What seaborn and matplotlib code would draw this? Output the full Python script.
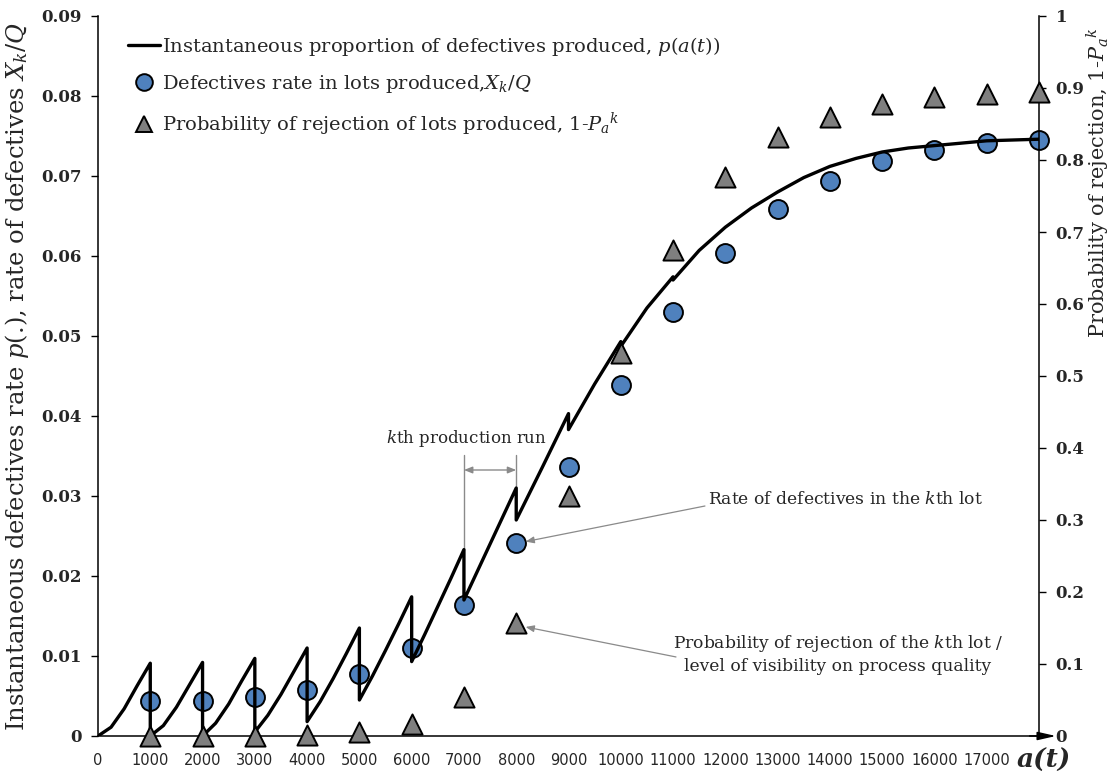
import matplotlib
matplotlib.use("Agg")
import matplotlib.pyplot as plt
from matplotlib.lines import Line2D
import pandas as pd
import seaborn as sns

# ---- data -----------------------------------------------------------------
# lot completion times a(t)
lot_end = [1000, 2000, 3000, 4000, 5000, 6000, 7000, 8000, 9000,
           10000, 11000, 12000, 13000, 14000, 15000, 16000, 17000, 18000]

# defectives rate in each produced lot, X_k / Q
defect_rate = [0.0044, 0.0044, 0.0049, 0.0058, 0.0078, 0.0110, 0.0164, 0.0241,
               0.0336, 0.0439, 0.0530, 0.0604, 0.0659, 0.0694, 0.0719, 0.0732,
               0.0741, 0.0745]

# probability of rejection of each lot, 1 - Pa^k
reject_prob = [0.0, 0.0, 0.0, 0.001, 0.006, 0.017, 0.054, 0.157, 0.333,
               0.532, 0.675, 0.776, 0.832, 0.860, 0.878, 0.888, 0.892, 0.895]

# instantaneous proportion of defectives p(a(t)); repeated times mark the
# drop at the end of each production run
line_t = [0, 250, 500, 750, 1000,
          1000, 1250, 1500, 1750, 2000,
          2000, 2250, 2500, 2750, 3000,
          3000, 3250, 3500, 3750, 4000,
          4000, 4250, 4500, 4750, 5000,
          5000, 5250, 5500, 5750, 6000,
          6000, 6250, 6500, 6750, 7000,
          7000, 7500, 8000,
          8000, 8500, 9000,
          9000, 9500, 10000,
          10000, 10500, 11000,
          11000, 11500, 12000, 12500, 13000, 13500, 14000, 14500, 15000,
          15500, 16000, 16500, 17000, 17500, 18000]
line_p = [0.0, 0.0011, 0.0034, 0.0063, 0.0091,
          0.0, 0.0013, 0.0036, 0.0064, 0.0092,
          0.0, 0.0016, 0.0040, 0.0069, 0.0097,
          0.0005, 0.0026, 0.0052, 0.0081, 0.0110,
          0.0018, 0.0043, 0.0072, 0.0103, 0.0135,
          0.0045, 0.0075, 0.0107, 0.0140, 0.0174,
          0.0093, 0.0127, 0.0162, 0.0197, 0.0233,
          0.0170, 0.0240, 0.0310,
          0.0270, 0.0336, 0.0403,
          0.0383, 0.0440, 0.0493,
          0.0487, 0.0535, 0.0574,
          0.0570, 0.0607, 0.0636, 0.0660, 0.0680, 0.0698, 0.0712, 0.0722, 0.0730,
          0.0735, 0.0738, 0.0741, 0.0744, 0.0745, 0.0746]

x_ticks = [0, 1000, 2000, 3000, 4000, 5000, 6000, 7000, 8000, 9000,
           10000, 11000, 12000, 13000, 14000, 15000, 16000, 17000]
x_tick_labels = [str(v) for v in x_ticks]
left_ticks = [0, 0.01, 0.02, 0.03, 0.04, 0.05, 0.06, 0.07, 0.08, 0.09]
left_tick_labels = ["0", "0.01", "0.02", "0.03", "0.04", "0.05", "0.06",
                    "0.07", "0.08", "0.09"]
right_ticks = [0, 0.1, 0.2, 0.3, 0.4, 0.5, 0.6, 0.7, 0.8, 0.9, 1.0]
right_tick_labels = ["0", "0.1", "0.2", "0.3", "0.4", "0.5", "0.6", "0.7",
                     "0.8", "0.9", "1"]

# ---- style ----------------------------------------------------------------
sns.set_style("white")
plt.rcParams["font.family"] = ["DejaVu Serif"]
plt.rcParams["mathtext.fontset"] = "dejavuserif"

BLUE = "#4F81BD"
GREY = "#7F7F7F"
ANN = "#8A8A8A"

fig = plt.figure(figsize=(11.13, 7.73), dpi=100)
W, H = 1113, 773
ax = fig.add_axes([98 / W, 1 - 736 / H, (1039 - 98) / W, (736 - 16) / H])
ax2 = ax.twinx()

line_df = pd.DataFrame({"t": line_t, "p": line_p})
lot_df = pd.DataFrame({"t": lot_end, "rate": defect_rate, "reject": reject_prob})

sns.scatterplot(data=lot_df, x="t", y="rate", ax=ax, s=185, color=BLUE,
                edgecolor="black", linewidth=1.4, zorder=2, clip_on=False,
                legend=False)
sns.lineplot(data=line_df, x="t", y="p", ax=ax, sort=False, estimator=None,
             color="black", lw=2.4, zorder=3, legend=False)
sns.scatterplot(data=lot_df, x="t", y="reject", ax=ax2, s=210, marker="^",
                color=GREY, edgecolor="black", linewidth=1.4, zorder=4,
                clip_on=False, legend=False)

ax.set_xlim(0, 18000)
ax.set_ylim(0, 0.09)
ax2.set_ylim(0, 1)

ax.set_xticks(x_ticks)
ax.set_xticklabels(x_tick_labels, family="DejaVu Sans", fontsize=10.5)
ax.set_yticks(left_ticks)
ax.set_yticklabels(left_tick_labels, fontweight="bold", fontsize=12)
ax2.set_yticks(right_ticks)
ax2.set_yticklabels(right_tick_labels, fontweight="bold", fontsize=12)

for a in (ax, ax2):
    a.tick_params(direction="out", length=5, width=1, pad=7, color="black")
    a.set_xlabel("")
    a.set_ylabel("")

for side in ("top", "right"):
    ax.spines[side].set_visible(False)
for side in ("top", "left", "bottom"):
    ax2.spines[side].set_visible(False)
for sp in (ax.spines["left"], ax.spines["bottom"], ax2.spines["right"]):
    sp.set_color("black")
    sp.set_linewidth(1.1)

# arrow head at the end of the time axis
ax.annotate("", xy=(1.018, 0), xytext=(0.99, 0), xycoords="axes fraction",
            arrowprops=dict(arrowstyle="-|>,head_length=1.1,head_width=0.25",
                            color="black", lw=1.1, shrinkA=0, shrinkB=0),
            annotation_clip=False)

ax.set_ylabel("Instantaneous defectives rate $p$(.), rate of defectives $X_k/Q$",
              fontsize=17.5)
ax.yaxis.set_label_coords(-0.071, 0.5)
ax2.set_ylabel("Probability of rejection, 1-$P_a{}^k$", fontsize=15)
ax2.yaxis.set_label_coords(1.049, 0.768)

fig.text(1044 / W, 1 - 760 / H, "a(t)", fontsize=19, fontweight="bold",
         fontstyle="italic", ha="center", va="center")

# k-th production run marker
run_top = 0.0351
peak7 = line_p[line_t.index(7000)]
peak8 = line_p[line_t.index(8000)]
ax.plot([7000, 7000], [run_top, peak7], color=ANN, lw=1, zorder=1)
ax.plot([8000, 8000], [run_top, peak8], color=ANN, lw=1, zorder=1)
ax.annotate("", xy=(8000, 0.03325), xytext=(7000, 0.03325),
            arrowprops=dict(arrowstyle="<|-|>,head_length=0.5,head_width=0.2",
                            color=ANN, lw=1, shrinkA=0, shrinkB=0))
ax.text(7050, 0.0372, "$k$th production run", fontsize=12, ha="center",
        va="center")

# callouts
ax.annotate("", xy=(8180, 0.0243), xytext=(11610, 0.02875),
            arrowprops=dict(arrowstyle="-|>,head_length=0.5,head_width=0.2",
                            color=ANN, lw=0.9, shrinkA=0, shrinkB=0))
ax.text(11660, 0.0295, "Rate of defectives in the $k$th lot", fontsize=12.3,
        ha="left", va="center")
ax.annotate("", xy=(8180, 0.01363), xytext=(11056, 0.00988),
            arrowprops=dict(arrowstyle="-|>,head_length=0.5,head_width=0.2",
                            color=ANN, lw=0.9, shrinkA=0, shrinkB=0))
ax.text(14155, 0.0103,
        "Probability of rejection of the $k$th lot /\nlevel of visibility on process quality",
        fontsize=12.3, ha="center", va="center", linespacing=1.3)

# legend
handles = [
    Line2D([], [], color="black", lw=2.4),
    Line2D([], [], ls="none", marker="o", markersize=12, markerfacecolor=BLUE,
           markeredgecolor="black", markeredgewidth=1.4),
    Line2D([], [], ls="none", marker="^", markersize=12, markerfacecolor=GREY,
           markeredgecolor="black", markeredgewidth=1.4),
]
labels = [
    "Instantaneous proportion of defectives produced, $p(a(t))$",
    "Defectives rate in lots produced,$X_k/Q$",
    "Probability of rejection of lots produced, 1-$P_a{}^k$",
]
ax2.legend(handles, labels, loc="upper left",
           bbox_to_anchor=(128 / W, 1 - 35 / H), bbox_transform=fig.transFigure,
           frameon=False, fontsize=14, handlelength=1.65, handletextpad=0.1,
           borderpad=0, borderaxespad=0, labelspacing=0.78)

fig.savefig("out.png", dpi=100, facecolor="white")
